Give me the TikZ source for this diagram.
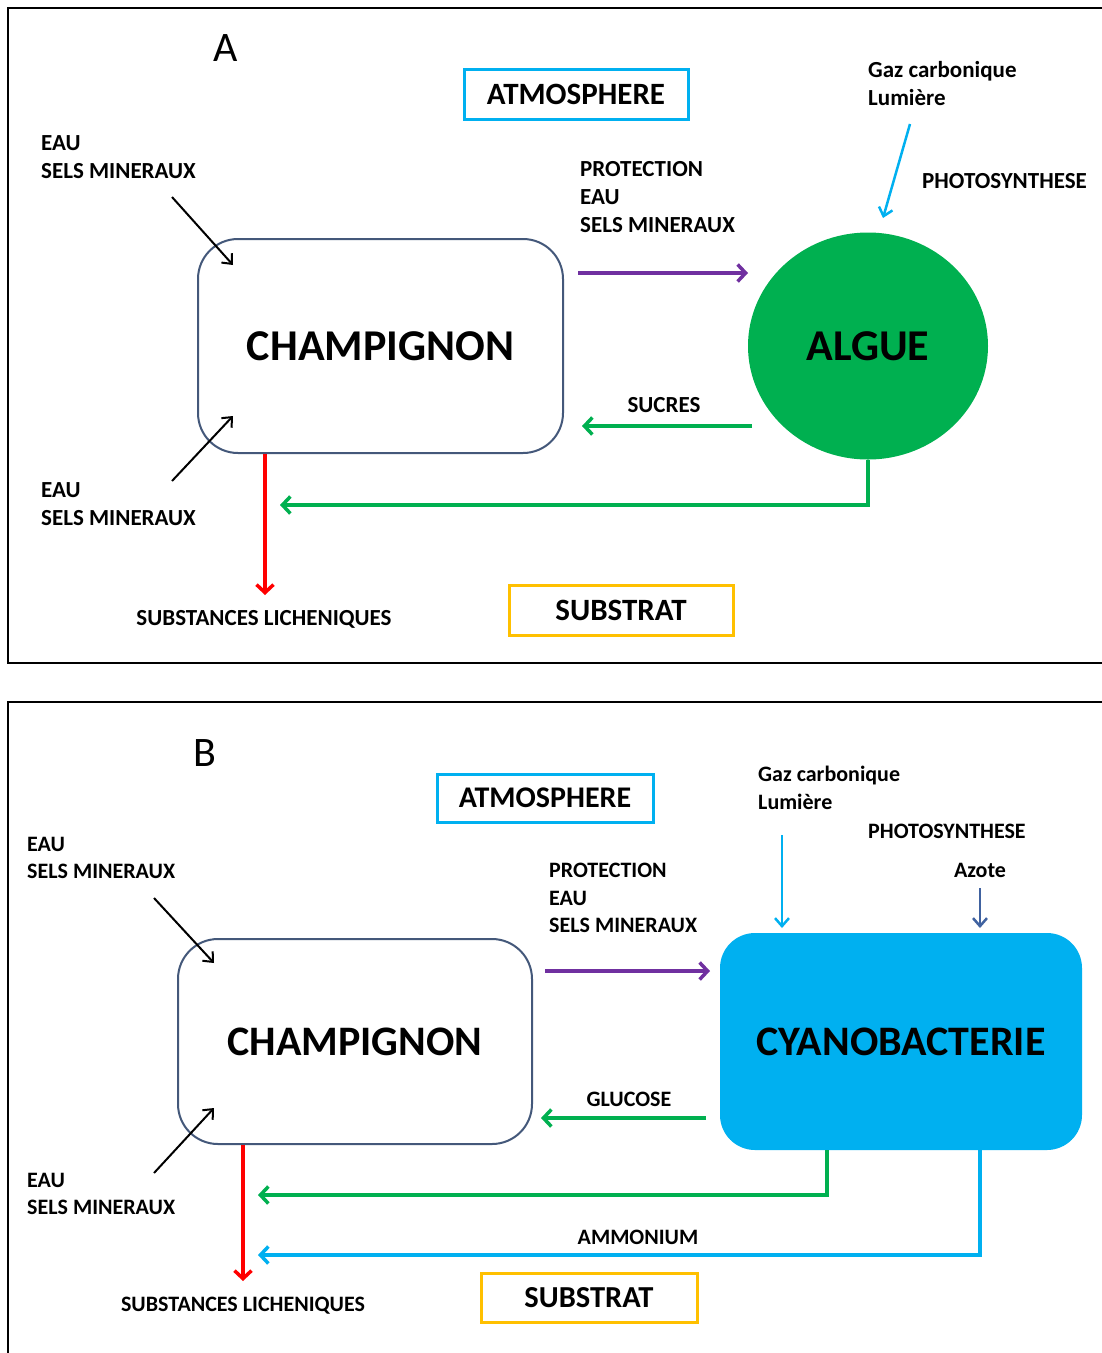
\documentclass[tikz,border=0pt]{standalone}
\usepackage{fontspec}
\setmainfont{Carlito}
\usetikzlibrary{arrows.meta,shapes.geometric}
\definecolor{cpurple}{HTML}{7030A0}
\definecolor{cgreen}{HTML}{00B050}
\definecolor{cblue}{HTML}{00B0F0}
\definecolor{cred}{HTML}{FF0000}
\definecolor{cyellow}{HTML}{FFC000}
\definecolor{cborder}{HTML}{44587A}
\definecolor{cnavy}{HTML}{4062A0}
\begin{document}
\begin{tikzpicture}[x=1pt,y=-1pt,
  lbl/.style={font=\bfseries\fontsize{23}{28}\selectfont, inner sep=0pt, align=left},
  lblb/.style={font=\bfseries\fontsize{22}{27.5}\selectfont, inner sep=0pt, align=left},
  big/.style={font=\bfseries\fontsize{42}{44}\selectfont},
  panel/.style={font=\fontsize{42}{44}\selectfont, inner sep=0pt},
  zone/.style={draw, line width=3pt, inner sep=0pt, font=\bfseries\fontsize{31}{32}\selectfont},
  fungus/.style={draw=cborder, line width=2pt, rounded corners=40pt, inner sep=0pt, big},
  flow/.style={line width=3.5pt, -{Straight Barb[length=8pt,width=17pt]}},
  thin/.style={line width=2pt, -{Straight Barb[length=8pt,width=14pt]}},
]
\useasboundingbox (0,0) rectangle (1102,1353);
\fill[white] (0,0) rectangle (1102,1353);
% frames
\draw[line width=2.5pt] (1102,8) -- (8,8) -- (8,663) -- (1102,663);
\draw[line width=2.5pt] (1102,702) -- (8,702) -- (8,1353);

% ================= Panel A =================
\node[panel] (labA) at (226,48) {A};
\node[zone, draw=cblue, minimum width=224, minimum height=50] (atmA) at (576,94) {ATMOSPHERE};
\node[lbl, anchor=west] (gazA) at (868,84) {Gaz carbonique\\Lumière};
\node[lbl, anchor=west] (photoA) at (922,181) {PHOTOSYNTHESE};
\node[lbl, anchor=west] (eauA1) at (41,157) {EAU\\SELS MINERAUX};
\node[lbl, anchor=west] (protA) at (580,197) {PROTECTION\\EAU\\SELS MINERAUX};
\node[fungus, minimum width=365, minimum height=214, font=\bfseries\fontsize{44}{46}\selectfont] (chA) at (380.5,346) {CHAMPIGNON};
\node[ellipse, fill=cgreen, inner sep=0pt, minimum width=240, minimum height=227, font=\bfseries\fontsize{44}{46}\selectfont] (algA) at (868,346) {ALGUE};
\node[lbl] (sucA) at (664,405) {SUCRES};
\node[lbl, anchor=west] (eauA2) at (41,504) {EAU\\SELS MINERAUX};
\node[lbl] (subsA) at (264,619) {SUBSTANCES LICHENIQUES};
\node[zone, draw=cyellow, minimum width=224, minimum height=50] (strA) at (621,610) {SUBSTRAT};

\coordinate (bA1) at (910,124);
\coordinate (bA2) at (883,218);
\draw[thin, cblue, line width=2.5pt] (bA1) -- (bA2);
\coordinate (kA1) at (172,197);
\coordinate (kA2) at (233,265);
\draw[thin] (kA1) -- (kA2);
\coordinate (kA3) at (172,481);
\coordinate (kA4) at (233,416);
\draw[thin] (kA3) -- (kA4);
\coordinate (pA1) at (578,273);
\coordinate (pA2) at (748,273);
\draw[flow, cpurple] (pA1) -- (pA2);
\coordinate (sA1) at (752,426);
\coordinate (sA2) at (582,426);
\draw[flow, cgreen] (sA1) -- (sA2);
\coordinate (gA) at (280,505);
\draw[flow, cgreen] (algA.south) |- (gA);
\coordinate (rA) at (265,595);
\draw[flow, cred] (chA.south -| rA) -- (rA);

% ================= Panel B =================
\node[panel] (labB) at (205,753) {B};
\node[zone, draw=cblue, minimum width=216, minimum height=48, font=\bfseries\fontsize{30}{32}\selectfont] (atmB) at (545,798) {ATMOSPHERE};
\node[lblb, anchor=west] (gazB) at (758,788) {Gaz carbonique\\Lumière};
\node[lblb, anchor=west] (photoB) at (868,831) {PHOTOSYNTHESE};
\node[lblb] (azB) at (980,870) {Azote};
\node[lblb, anchor=west] (eauB1) at (27,858) {EAU\\SELS MINERAUX};
\node[lblb, anchor=west] (protB) at (549,898) {PROTECTION\\EAU\\SELS MINERAUX};
\node[fungus, minimum width=354, minimum height=205] (chB) at (355,1041.5) {CHAMPIGNON};
\node[fill=cblue, rounded corners=35pt, inner sep=0pt, minimum width=362, minimum height=217, big] (cyB) at (901,1041.5) {CYANOBACTERIE};
\node[lblb] (gluB) at (629,1099) {GLUCOSE};
\node[lblb, anchor=west] (eauB2) at (27,1194) {EAU\\SELS MINERAUX};
\node[lblb] (ammB) at (638,1237) {AMMONIUM};
\node[lblb] (subsB) at (243,1306) {SUBSTANCES LICHENIQUES};
\node[zone, draw=cyellow, minimum width=216, minimum height=49, font=\bfseries\fontsize{30.5}{32}\selectfont] (strB) at (589,1297.5) {SUBSTRAT};

\coordinate (bB1) at (782,835);
\coordinate (bB2) at (782,928);
\draw[thin, cblue, line width=2.5pt] (bB1) -- (bB2);
\coordinate (nB1) at (980,888);
\coordinate (nB2) at (980,928);
\draw[thin, cnavy, line width=2.5pt] (nB1) -- (nB2);
\coordinate (kB1) at (154,898);
\coordinate (kB2) at (214,963);
\draw[thin] (kB1) -- (kB2);
\coordinate (kB3) at (154,1173);
\coordinate (kB4) at (214,1108);
\draw[thin] (kB3) -- (kB4);
\coordinate (pB1) at (545,971);
\coordinate (pB2) at (710,971);
\draw[flow, cpurple] (pB1) -- (pB2);
\coordinate (sB1) at (706,1118);
\coordinate (sB2) at (541,1118);
\draw[flow, cgreen] (sB1) -- (sB2);
\coordinate (gB0) at (827,1150);
\coordinate (gB) at (258,1195);
\draw[flow, cgreen] (cyB.south -| gB0) |- (gB);
\coordinate (aB0) at (980,1150);
\coordinate (aB) at (258,1255);
\draw[flow, cblue] (cyB.south -| aB0) |- (aB);
\coordinate (rB) at (243,1281);
\draw[flow, cred] (chB.south -| rB) -- (rB);
\end{tikzpicture}
\end{document}
